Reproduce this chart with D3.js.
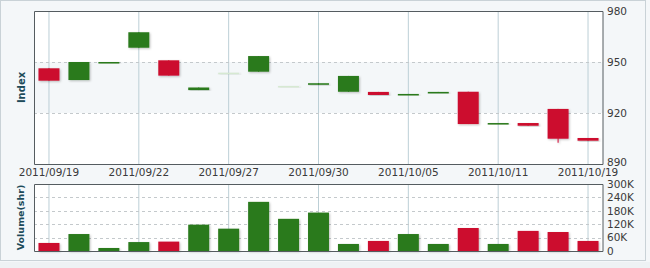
<!DOCTYPE html>
<html>
<head>
<meta charset="utf-8">
<title></title>
<script src="https://cdn.jsdelivr.net/npm/d3@7/dist/d3.min.js"></script>
<style>
  body{margin:0;background:#f4f7f9;}
  text{font-family:"DejaVu Sans",Verdana,sans-serif;}
</style>
</head>
<body>
<script>
// dates of the trading days
let dates=['2011/09/19','2011/09/20','2011/09/21','2011/09/22','2011/09/23','2011/09/26','2011/09/27',
  '2011/09/28','2011/09/29','2011/09/30','2011/10/03','2011/10/04','2011/10/05','2011/10/06','2011/10/07',
  '2011/10/11','2011/10/13','2011/10/17','2011/10/19'];
let opens =[946.3,939.4,949.6,958.4,951.0,933.5,943.7,944.3,935.9,936.6,932.5,932.4,930.9,932.1,932.5,913.9,914.1,922.4,905.3];
let closes=[939.0,950.0,950.0,967.5,942.0,935.0,943.7,953.5,935.9,937.5,941.8,930.6,931.2,932.4,913.5,914.1,912.5,904.9,903.7];
let highs =[946.3,950.0,950.0,967.5,951.0,935.0,943.7,953.5,935.9,937.5,941.8,932.4,931.2,932.4,932.5,914.1,914.1,922.4,905.3];
let lows  =[939.0,939.4,949.6,958.4,942.0,933.5,943.7,944.3,935.9,936.6,932.5,930.6,930.9,932.1,913.5,913.9,912.5,902.5,903.7];
let volumes=[36000,76000,13500,40000,42000,118000,100000,220000,144000,172000,31500,45000,76000,31500,103000,31500,90000,85000,45000];
let priceTicks=[890,920,950,980];
let volTicks=[0,60000,120000,180000,240000,300000];
let labelDates=['2011/09/19','2011/09/22','2011/09/27','2011/09/30','2011/10/05','2011/10/11','2011/10/19'];

let W=650,H=268;
let left=34,right=603;
let pTop=11,pBot=164,vTop=184,vBot=251;

let svg=d3.select('body').append('svg').attr('width',W).attr('height',H);

let defs=svg.append('defs');
let f=defs.append('filter').attr('id','sh').attr('x','-20%').attr('y','-20%').attr('width','150%').attr('height','150%');
f.append('feDropShadow').attr('dx',1).attr('dy',1).attr('stdDeviation',1).attr('flood-color','#000').attr('flood-opacity',0.25);

// outer frame
svg.append('rect').attr('x',0.5).attr('y',0.5).attr('width',W-5).attr('height',260)
  .attr('fill','#f4f7f9').attr('stroke','#c9d2d7');
svg.append('rect').attr('x',0).attr('y',262).attr('width',W).attr('height',6).attr('fill','#eef2f4');

let x=d3.scaleBand().domain(dates).range([left,right]).paddingInner(0.3).paddingOuter(0.15);
let y=d3.scaleLinear().domain([890,980]).range([pBot,pTop]);
let yv=d3.scaleLinear().domain([0,300000]).range([vBot,vTop]);

let green='#2a7a1c', red='#cc0a2d', faint='#d6e9d2';
let colorOf=i=>closes[i]>opens[i]?green:(closes[i]<opens[i]?red:faint);
let volColor=i=>closes[i]<opens[i]?red:green;

// ---- price panel ----
let gp=svg.append('g');
gp.append('rect').attr('x',left).attr('y',pTop).attr('width',right-left).attr('height',pBot-pTop).attr('fill','#fff');
gp.append('rect').attr('x',left).attr('y',y(950)).attr('width',right-left).attr('height',y(920)-y(950)).attr('fill','#f4f7f9');

gp.selectAll('line.vg').data(labelDates).enter().append('line')
  .attr('x1',d=>x(d)+x.bandwidth()/2).attr('x2',d=>x(d)+x.bandwidth()/2)
  .attr('y1',pTop).attr('y2',pBot).attr('stroke','#bccfd6');

gp.selectAll('line.hg').data(priceTicks.slice(1,-1)).enter().append('line')
  .attr('x1',left).attr('x2',right).attr('y1',d=>y(d)+0.5).attr('y2',d=>y(d)+0.5)
  .attr('stroke','#c4c9cc').attr('stroke-dasharray','3,3');

let candles=gp.selectAll('g.c').data(dates).enter().append('g').attr('filter','url(#sh)');
candles.append('line')
  .attr('x1',(d,i)=>x(d)+x.bandwidth()/2).attr('x2',(d,i)=>x(d)+x.bandwidth()/2)
  .attr('y1',(d,i)=>y(highs[i])).attr('y2',(d,i)=>y(lows[i]))
  .attr('stroke',(d,i)=>colorOf(i));
candles.append('rect')
  .attr('x',d=>x(d)).attr('width',x.bandwidth())
  .attr('y',(d,i)=>y(Math.max(opens[i],closes[i])))
  .attr('height',(d,i)=>Math.max(1.5,y(Math.min(opens[i],closes[i]))-y(Math.max(opens[i],closes[i]))))
  .attr('fill',(d,i)=>colorOf(i));

gp.append('path').attr('d',`M${left+0.5},${pTop+0.5}H${right}V${pBot+0.5}H${left+0.5}Z`)
  .attr('fill','none').attr('stroke','#555c60');

let axP=svg.append('g').attr('transform',`translate(${right},0)`)
  .call(d3.axisRight(y).tickValues(priceTicks).tickSize(0).tickPadding(4));
axP.select('.domain').remove();
axP.selectAll('text').attr('font-size','10.5px').attr('fill','#3a3a3a').attr('font-family','"DejaVu Sans",Verdana,sans-serif');
axP.selectAll('.tick').filter(d=>d===890).select('text').attr('dy','0.1em');

// date labels
let axX=svg.append('g').attr('transform',`translate(0,${pBot})`)
  .call(d3.axisBottom(x).tickValues(labelDates).tickSize(0).tickPadding(5));
axX.select('.domain').remove();
axX.selectAll('text').attr('font-size','10.5px').attr('fill','#3a3a3a').attr('font-family','"DejaVu Sans",Verdana,sans-serif');

// ---- volume panel ----
let gv=svg.append('g');
gv.append('rect').attr('x',left).attr('y',vTop).attr('width',right-left).attr('height',vBot-vTop).attr('fill','#fff');
gv.selectAll('line.vg').data(labelDates).enter().append('line')
  .attr('x1',d=>x(d)+x.bandwidth()/2).attr('x2',d=>x(d)+x.bandwidth()/2)
  .attr('y1',vTop).attr('y2',vBot).attr('stroke','#bccfd6');
gv.selectAll('line.hg').data(volTicks.slice(1,-1)).enter().append('line')
  .attr('x1',left).attr('x2',right).attr('y1',d=>Math.round(yv(d))+0.5).attr('y2',d=>Math.round(yv(d))+0.5)
  .attr('stroke','#c4c9cc').attr('stroke-dasharray','3,3');
gv.selectAll('rect.bar').data(dates).enter().append('rect')
  .attr('x',d=>x(d)).attr('width',x.bandwidth())
  .attr('y',(d,i)=>yv(volumes[i])).attr('height',(d,i)=>yv(0)-yv(volumes[i]))
  .attr('fill',(d,i)=>volColor(i)).attr('filter','url(#sh)');
gv.append('path').attr('d',`M${left+0.5},${vTop+0.5}H${right}V${vBot+0.5}H${left+0.5}Z`)
  .attr('fill','none').attr('stroke','#555c60');

let axV=svg.append('g').attr('transform',`translate(${right},0)`)
  .call(d3.axisRight(yv).tickValues(volTicks).tickSize(0).tickPadding(4)
    .tickFormat(d=>d===0?'0':(d/1000)+'K'));
axV.select('.domain').remove();
axV.selectAll('text').attr('font-size','10.5px').attr('fill','#3a3a3a').attr('font-family','"DejaVu Sans",Verdana,sans-serif');

// axis titles
svg.append('text').attr('transform',`translate(25,${(pTop+pBot)/2}) rotate(-90)`)
  .attr('text-anchor','middle').attr('font-size','10px').attr('font-weight','bold').attr('fill','#1d4b5a').text('Index');
svg.append('text').attr('transform',`translate(24,${(vTop+vBot)/2}) rotate(-90)`)
  .attr('text-anchor','middle').attr('font-size','9.5px').attr('font-weight','bold').attr('fill','#1d4b5a').text('Volume(shr)');
</script>
</body>
</html>
